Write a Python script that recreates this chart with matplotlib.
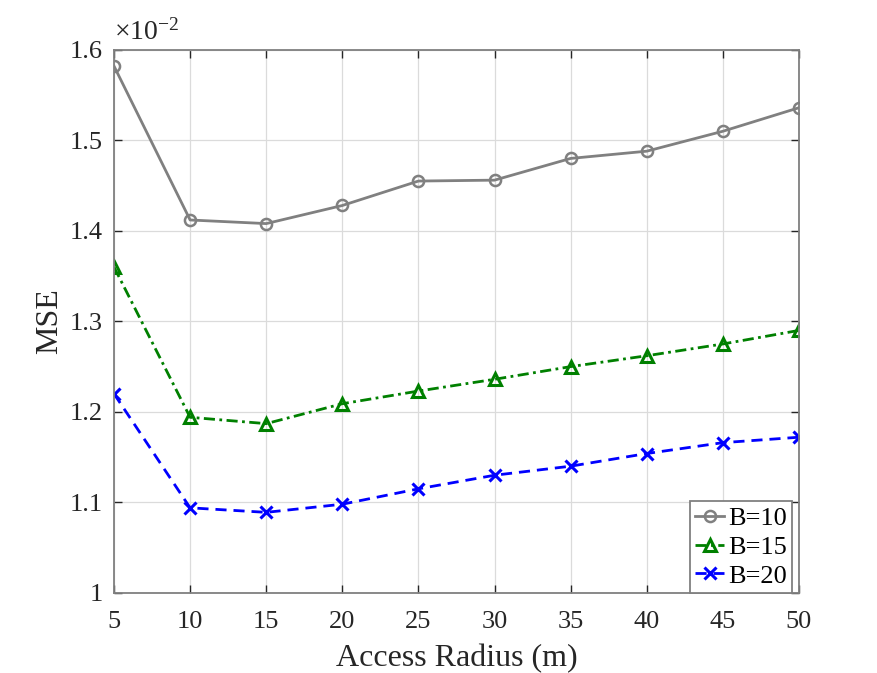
import matplotlib
matplotlib.use("Agg")
import matplotlib.pyplot as plt
from matplotlib.ticker import FormatStrFormatter

plt.rcParams['font.family'] = ['Liberation Serif', 'DejaVu Serif']
plt.rcParams['mathtext.fontset'] = 'custom'
plt.rcParams['mathtext.rm'] = 'Liberation Serif'

# access radius (m)
radius = [5, 10, 15, 20, 25, 30, 35, 40, 45, 50]

# MSE values in units of 1e-2
mse_b10 = [1.582, 1.412, 1.408, 1.428, 1.455, 1.456, 1.480, 1.488, 1.510, 1.536]
mse_b15 = [1.360, 1.194, 1.187, 1.209, 1.223, 1.236, 1.250, 1.262, 1.275, 1.290]
mse_b20 = [1.220, 1.094, 1.089, 1.098, 1.115, 1.130, 1.140, 1.154, 1.166, 1.172]

fig = plt.figure(figsize=(8.77, 6.73), dpi=100)
ax = fig.add_axes([0.13, 0.119, 0.781, 0.807])

gray = (0.5, 0.5, 0.5)
dark = (0.15, 0.15, 0.15)
ax.plot(radius, mse_b10, '-o', color=gray, lw=2, ms=8, mfc='none', mew=1.8, label='B=10')
ax.plot(radius, mse_b15, '-.^', color=(0, 0.5, 0), lw=2, ms=8, mfc='none', mew=2.2,
        dashes=(4, 1.6, 1, 1.6), label='B=15')
ax.plot(radius, mse_b20, '--x', color='blue', lw=2, ms=8, mew=2.2,
        dashes=(4, 2.5), label='B=20')

ax.set_xlim(5, 50)
ax.set_ylim(1.0, 1.6)
ax.set_xticks(radius)
ax.set_yticks([1.0, 1.1, 1.2, 1.3, 1.4, 1.5, 1.6])
ax.yaxis.set_major_formatter(FormatStrFormatter('%g'))

ax.grid(True, color=(0.86, 0.86, 0.86), lw=0.9)
ax.set_axisbelow(True)
for s in ax.spines.values():
    s.set_color(gray)
    s.set_linewidth(1.3)
ax.tick_params(direction='in', top=True, right=True, length=6, width=1.0,
               color=dark, labelsize=19, labelcolor=dark)
ax.tick_params(axis='x', pad=13)
ax.tick_params(axis='y', pad=8)

ax.set_xlabel('Access Radius (m)', fontsize=23, color=dark, labelpad=8)
ax.set_ylabel('MSE', fontsize=23, color=dark, labelpad=4)

ax.text(0.0, 1.008, r'$\times\mathregular{10^{-2}}$', transform=ax.transAxes,
        fontsize=20, color=dark, ha='left', va='bottom')

leg = ax.legend(loc='lower right', fontsize=19, fancybox=False, framealpha=1,
                edgecolor=gray, borderaxespad=0.0, handlelength=1.1,
                handletextpad=0.15, labelspacing=0.2, borderpad=0.2,
                bbox_to_anchor=(0.99, 0.0))
leg.get_frame().set_linewidth(1.3)

fig.savefig('out.png', dpi=100)
